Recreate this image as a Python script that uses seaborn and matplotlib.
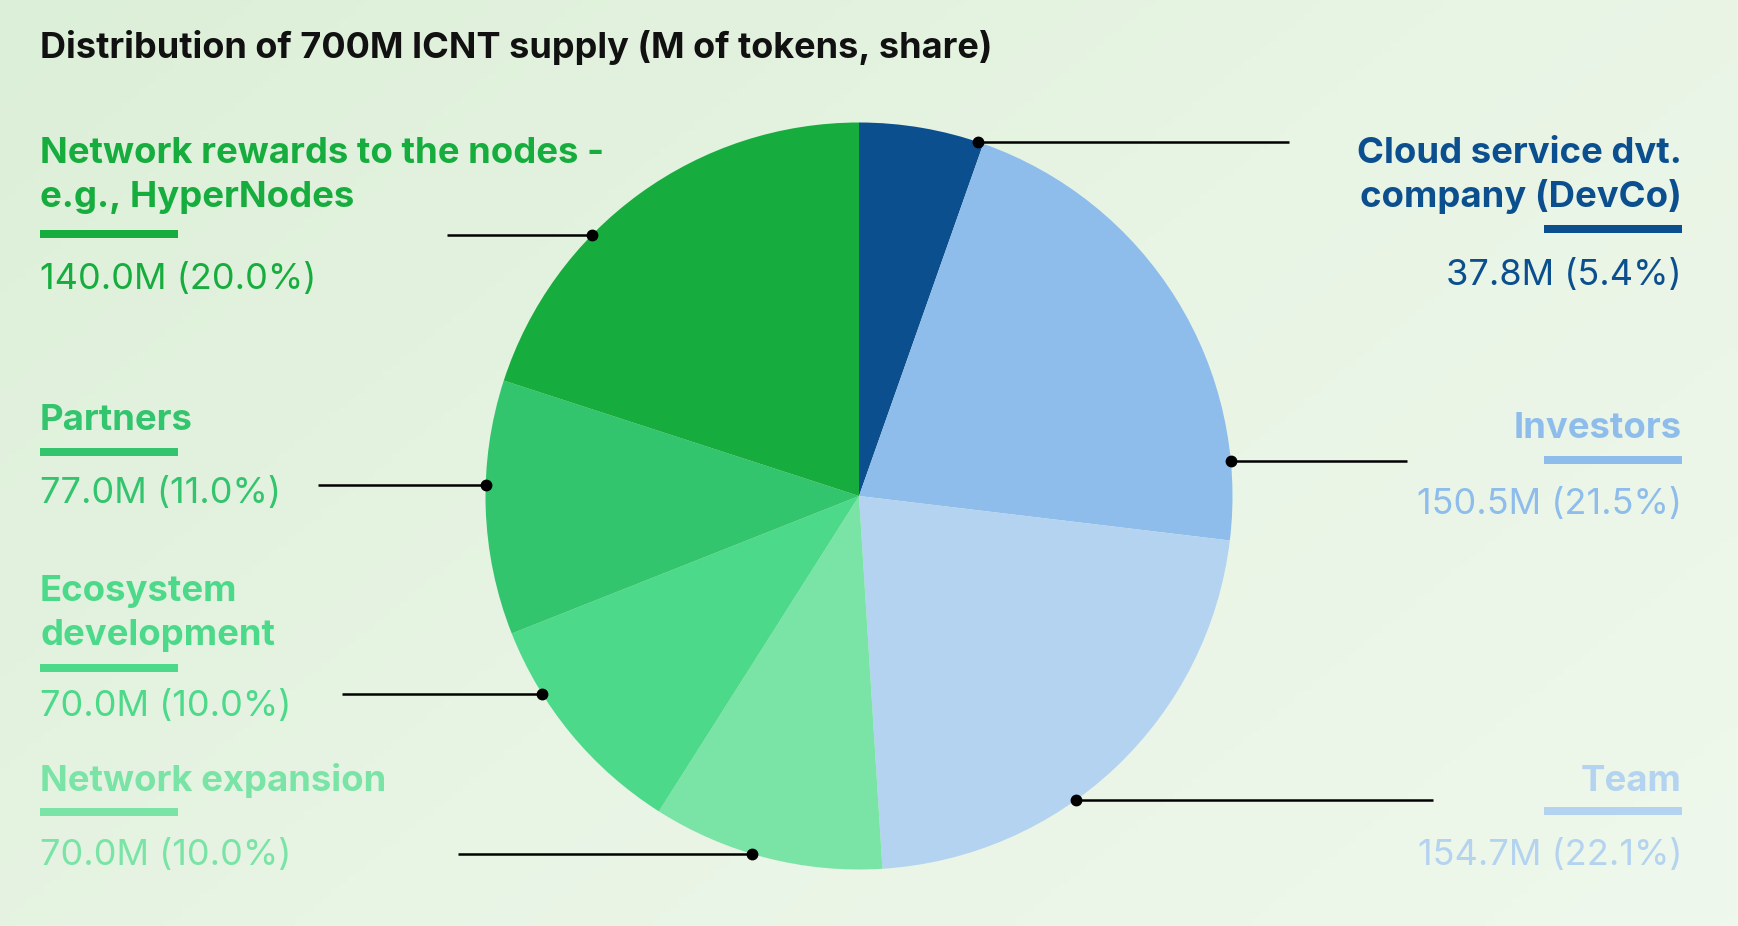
import numpy as np
import matplotlib
matplotlib.use("Agg")
import matplotlib.pyplot as plt
import seaborn as sns
from matplotlib.colors import LinearSegmentedColormap

# ---------------- data ----------------
categories = ["Cloud service dvt.\ncompany (DevCo)", "Investors", "Team",
              "Network expansion", "Ecosystem\ndevelopment", "Partners",
              "Network rewards to the nodes -\ne.g., HyperNodes"]
values_m = [37.8, 150.5, 154.7, 70.0, 70.0, 77.0, 140.0]
shares = [5.4, 21.5, 22.1, 10.0, 10.0, 11.0, 20.0]
colors = ["#0b4f8e", "#8ebdec", "#b4d3f0", "#7ae4a6", "#4dd98a", "#33c46e", "#17ad3e"]
title = "Distribution of 700M ICNT supply (M of tokens, share)"

# ---------------- layout ----------------
W, H = 1738, 926
sns.set_theme(style="white")
plt.rcParams["font.family"] = ["Inter", "Roboto", "DejaVu Sans"]

fig = plt.figure(figsize=(W / 100, H / 100), dpi=100)

# background gradient
bg = fig.add_axes([0, 0, 1, 1], zorder=-10)
cmap = LinearSegmentedColormap.from_list("bg", ["#dcefd8", "#e8f4e4", "#eef8ec"])
gx, gy = np.meshgrid(np.linspace(0, 1, 200), np.linspace(0, 1, 200))
bg.imshow(0.6 * gx + 0.4 * gy, cmap=cmap, aspect="auto", extent=[0, 1, 0, 1], origin="upper")
bg.axis("off")

def fx(x):
    return x / W

def fy(y):
    return 1 - y / H

# pie axes
cx, cy, R = 859, 496, 373.5
ax = fig.add_axes([fx(cx - R), 1 - (cy + R) / H, 2 * R / W, 2 * R / H])
ax.pie(values_m, colors=colors, startangle=90, counterclock=False, radius=1,
       wedgeprops=dict(linewidth=0, edgecolor="none"))
ax.set_xlim(-1, 1)
ax.set_ylim(-1, 1)
ax.set_aspect("auto")
ax.axis("off")

# connectors: (side, y level in radius units, far x end)
connectors = [(1, 0.948, 1.151), (1, 0.094, 1.467), (1, -0.814, 1.537),
              (-1, -0.958, -1.074), (-1, -0.530, -1.384), (-1, 0.029, -1.448),
              (-1, 0.699, -1.104)]
for side, yy, xend in connectors:
    xd = side * np.sqrt(1 - yy ** 2)
    ax.plot([xd, xend], [yy, yy], color="black", lw=1.8, clip_on=False, solid_capstyle="butt")
    ax.plot([xd], [yy], "o", color="black", ms=7.5, clip_on=False)

# title
fig.text(fx(40), fy(58), title, fontsize=26, fontweight="bold", color="#111111",
         va="baseline", ha="left")

# labels: (x, ha, baselines of label lines, bar y center, value baseline)
label_layout = [
    (1682, "right", [163, 207], 229, 285),
    (1682, "right", [438], 460, 514),
    (1682, "right", [791], 811, 865),
    (40, "left", [791], 812, 865),
    (40, "left", [601, 645], 668, 716),
    (40, "left", [430], 452, 503),
    (40, "left", [163, 207], 234, 289),
]
bar_w = 138
for cat, v, s, col, (x, ha, lines, bary, valy) in zip(categories, values_m, shares, colors, label_layout):
    for line, by in zip(cat.split("\n"), lines):
        fig.text(fx(x), fy(by), line, fontsize=26.3, fontweight="bold", color=col,
                 ha=ha, va="baseline")
    x0 = x - bar_w if ha == "right" else x
    fig.patches.append(plt.Rectangle((fx(x0), fy(bary + 4)), bar_w / W, 8 / H,
                                     transform=fig.transFigure, color=col, lw=0))
    fig.text(fx(x), fy(valy), f"{v:.1f}M ({s:.1f}%)", fontsize=26, fontweight="normal",
             color=col, ha=ha, va="baseline")

fig.savefig("out.png", dpi=100)
